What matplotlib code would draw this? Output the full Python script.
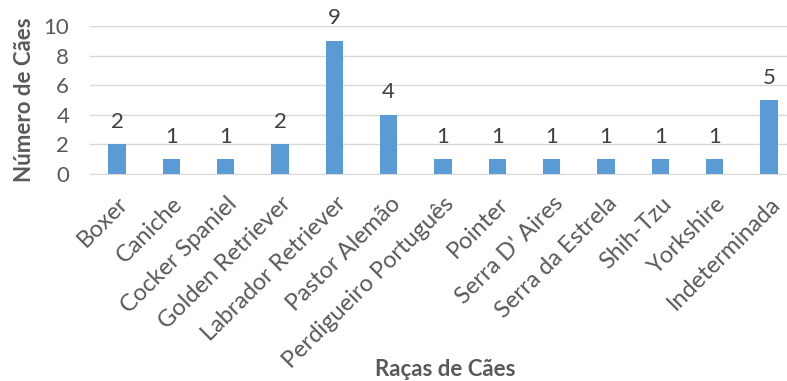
import matplotlib
matplotlib.use("Agg")
import matplotlib.pyplot as plt
from matplotlib.transforms import ScaledTranslation
import numpy as np

categories = ["Boxer", "Caniche", "Cocker Spaniel", "Golden Retriever",
              "Labrador Retriever", "Pastor Alemão", "Perdigueiro Português",
              "Pointer", "Serra D' Aires", "Serra da Estrela", "Shih-Tzu",
              "Yorkshire", "Indeterminada"]
values = [2, 1, 1, 2, 9, 4, 1, 1, 1, 1, 1, 1, 5]
yticks = [0, 2, 4, 6, 8, 10]

plt.rcParams['font.family'] = ['Lato', 'DejaVu Sans']

W, H = 787, 381
fig = plt.figure(figsize=(W/100, H/100), dpi=100)
ax = fig.add_axes([90/W, 1-174/H, (796-90)/W, (174-26)/H])

x = np.arange(len(categories))
bars = ax.bar(x, values, width=0.32, color="#5B9BD5", zorder=3)
ax.set_xlim(-0.5, len(categories)-0.5)
ax.set_ylim(0, 10)
ax.set_yticks(yticks)
ax.set_yticklabels([str(t) for t in yticks])
ax.grid(axis='y', color="#D9D9D9", linewidth=1, zorder=0)
for s in ['top', 'right', 'left']:
    ax.spines[s].set_visible(False)
ax.spines['bottom'].set_color("#D9D9D9")
ax.spines['bottom'].set_zorder(4)
ax.tick_params(axis='both', length=0, colors="#595959")
ax.tick_params(axis='y', pad=15, labelsize=16)
ax.set_xticks(x)
ax.set_xticklabels(categories, rotation=45, ha='right', va='center',
                   rotation_mode='anchor')
ax.tick_params(axis='x', pad=19, labelsize=17)
for lbl in ax.get_xticklabels():
    lbl.set_transform(lbl.get_transform() +
                      ScaledTranslation(8/100, 0, fig.dpi_scale_trans))

for xi, v in zip(x, values):
    ax.annotate(str(v), (xi, v), xytext=(0, 9), textcoords='offset points',
                ha='center', va='bottom', fontsize=16, color="#404040")

ax.set_ylabel("Número de Cães", fontsize=16, fontweight='bold', color="#595959",
              labelpad=6)
fig.text(445/W, 1-369/H, "Raças de Cães", fontsize=16, fontweight='bold',
         color="#595959", ha='center', va='center')

fig.savefig("out.png", dpi=100)
